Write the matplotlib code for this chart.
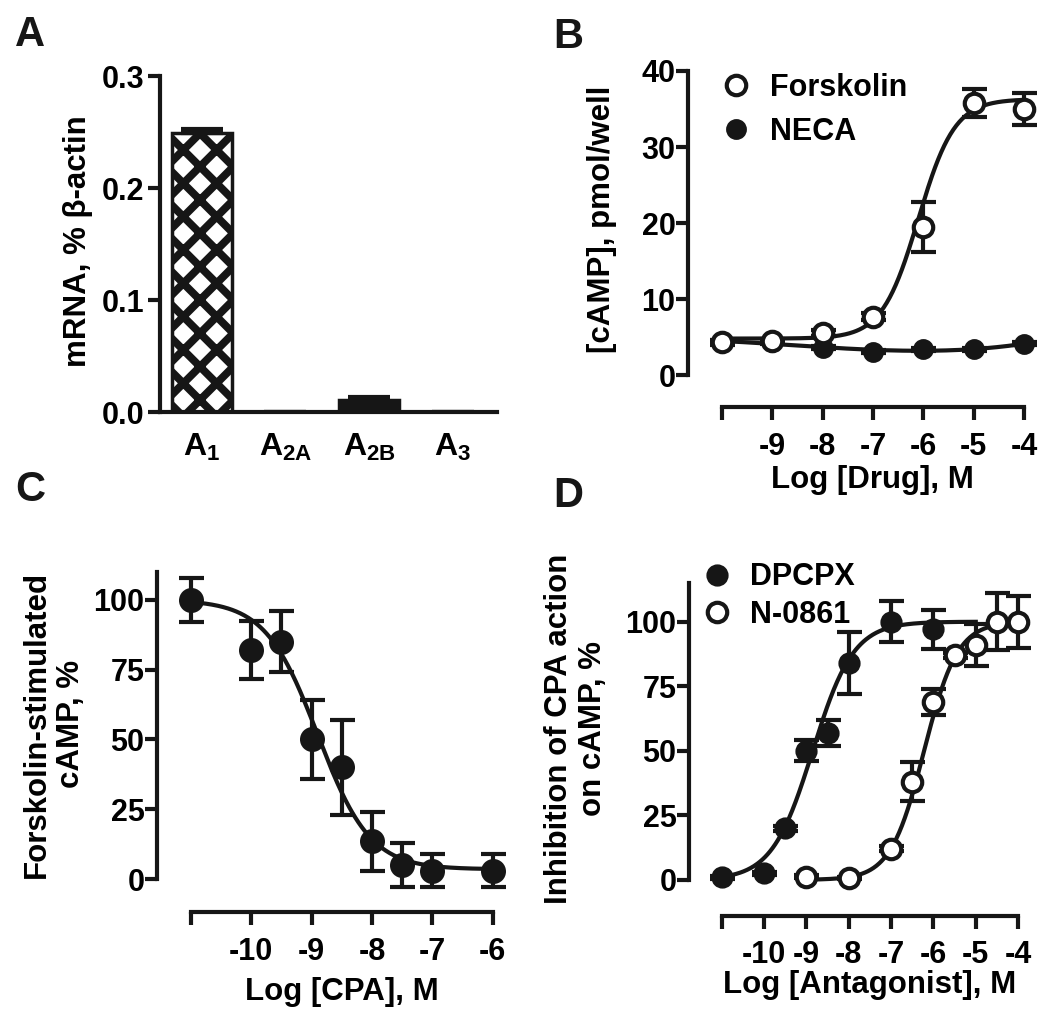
import numpy as np
import matplotlib
matplotlib.use('Agg')
import matplotlib.pyplot as plt
from matplotlib.lines import Line2D

plt.rcParams['font.family'] = ['Liberation Sans', 'DejaVu Sans']
plt.rcParams['font.weight'] = 'bold'
plt.rcParams['axes.labelweight'] = 'bold'
plt.rcParams['mathtext.fontset'] = 'custom'
plt.rcParams['mathtext.rm'] = 'Liberation Sans:bold'
plt.rcParams['mathtext.it'] = 'Liberation Sans:bold'
plt.rcParams['mathtext.bf'] = 'Liberation Sans:bold'
plt.rcParams['hatch.linewidth'] = 5.6

INK = '#161616'

# --- A: receptor mRNA ---
receptors = [r'$\mathrm{A_1}$', r'$\mathrm{A_{2A}}$', r'$\mathrm{A_{2B}}$', r'$\mathrm{A_3}$']
mrna = [0.249, 0.0, 0.011, 0.0]
mrna_err = [0.004, 0.0, 0.002, 0.0]

# --- B: cAMP vs drug ---
drug_log = [-10, -9, -8, -7, -6, -5, -4]
forsk = [4.3, 4.5, 5.5, 7.7, 19.5, 35.8, 35.0]
forsk_err = [0.3, 0.3, 0.4, 0.5, 3.3, 1.8, 2.1]
neca = [4.4, 4.3, 3.6, 3.1, 3.4, 3.4, 4.1]
neca_err = [0.2, 0.2, 0.2, 0.2, 0.2, 0.2, 0.2]
forsk_fit = dict(bottom=4.8, top=36.3, logec50=-6.1, hill=1.2)

# --- C: CPA inhibition ---
cpa_log = [-11, -10, -9.5, -9, -8.5, -8, -7.5, -7, -6]
cpa_resp = [100, 82, 85, 50, 40, 13.5, 5, 3, 3]
cpa_err = [8, 10.5, 11, 14, 17, 10.5, 8, 6, 6]
cpa_fit = dict(bottom=3.5, top=100, logec50=-8.9, hill=-1.0)

# --- D: antagonists ---
dpcpx_log = [-11, -10, -9.5, -9, -8.5, -8, -7, -6]
dpcpx = [1, 2.5, 20, 50, 57, 84, 100, 97]
dpcpx_err = [0.5, 0.5, 1, 4, 5, 12, 8, 7.5]
dpcpx_fit = dict(bottom=0, top=100, logec50=-8.85, hill=0.9)
n0861_log = [-9, -8, -7, -6.5, -6, -5.5, -5, -4.5, -4]
n0861 = [1.3, 0.8, 12, 38, 69, 87, 91, 100, 100]
n0861_err = [0.5, 0.5, 1, 7.5, 5, 1, 8, 11, 10]
n0861_fit = dict(bottom=0, top=100, logec50=-6.22, hill=1.1)


def hill(x, bottom, top, logec50, hill):
    return bottom + (top - bottom) / (1 + 10 ** ((logec50 - x) * hill))


def style_axes(ax):
    for s in ['top', 'right']:
        ax.spines[s].set_visible(False)
    for s in ['left', 'bottom']:
        ax.spines[s].set_linewidth(3)
        ax.spines[s].set_color(INK)
    ax.tick_params(direction='out', length=9, width=3, color=INK,
                   labelsize=22, pad=2)


def points(ax, x, y, err, filled, ms):
    ax.errorbar(x, y, yerr=err, fmt='none', ecolor=INK, elinewidth=3,
                capsize=9, capthick=3, zorder=3, clip_on=False)
    ax.plot(x, y, 'o', ms=ms, mfc=INK if filled else 'white', mec=INK,
            mew=3, zorder=4, clip_on=False, linestyle='none')


fig = plt.figure(figsize=(10.5, 10.24), dpi=100)

# ---------------- A ----------------
axA = fig.add_axes([160 / 1050, 1 - 412 / 1024, 337 / 1050, 336 / 1024])
style_axes(axA)
xA = np.arange(len(receptors))
axA.bar(xA, mrna, width=0.72, color=['white', 'white', INK, 'white'],
        edgecolor=INK, hatch='x', linewidth=2.5, zorder=2)
axA.errorbar(xA, mrna, yerr=[np.zeros(len(mrna)), mrna_err], fmt='none',
             ecolor=INK, elinewidth=3, capsize=15, capthick=3, zorder=3)
axA.set_xlim(-0.5, 3.53)
axA.set_ylim(0, 0.3)
axA.set_yticks([0.0, 0.1, 0.2, 0.3])
axA.set_yticklabels(['0.0', '0.1', '0.2', '0.3'])
axA.set_xticks(xA)
axA.set_xticklabels(receptors)
axA.tick_params(axis='x', length=0, pad=14, labelsize=23)
axA.set_ylabel('mRNA, % β-actin', fontsize=22.5)
axA.yaxis.set_label_coords(-0.243, 0.509)
axA.yaxis.label.set_va('center')

# ---------------- B ----------------
axB = fig.add_axes([688 / 1050, 1 - 407 / 1024, 342 / 1050, 336 / 1024])
style_axes(axB)
xs = np.linspace(-10, -4, 300)
axB.plot(xs, hill(xs, **forsk_fit), color=INK, lw=3, zorder=2)
neca_poly = np.polyfit(drug_log, neca, 3)
axB.plot(xs, np.polyval(neca_poly, xs), color=INK, lw=3, zorder=2)
points(axB, drug_log, neca, neca_err, True, 12)
points(axB, drug_log, forsk, forsk_err, False, 14)
axB.set_xlim(-10.68, -3.88)
axB.set_ylim(-4.2, 40)
axB.spines['left'].set_bounds(0, 40)
axB.spines['bottom'].set_bounds(-10, -4)
axB.set_yticks([0, 10, 20, 30, 40])
axB.set_xticks([-10, -9, -8, -7, -6, -5, -4])
axB.set_xticklabels(['', '-9', '-8', '-7', '-6', '-5', '-4'])
axB.tick_params(axis='y', pad=0)
axB.tick_params(axis='x', pad=9)
axB.set_ylabel('[cAMP], pmol/well', fontsize=22.5)
axB.yaxis.set_label_coords((602 - 688) / 342, (407 - 219) / 336)
axB.yaxis.label.set_va('center')
axB.set_xlabel('Log [Drug], M', fontsize=22.5)
axB.xaxis.set_label_coords((872 - 688) / 342, -(480 - 407) / 336)
axB.xaxis.label.set_va('center')
hB = [Line2D([], [], marker='o', ls='none', ms=14, mfc='white', mec=INK, mew=3),
      Line2D([], [], marker='o', ls='none', ms=12, mfc=INK, mec=INK, mew=3)]
axB.legend(hB, ['Forskolin', 'NECA'], loc='upper left', frameon=False,
           bbox_to_anchor=(0.06, 1.031), fontsize=22, handlelength=1.0,
           handletextpad=0.6, labelspacing=0.45, borderaxespad=0)

# ---------------- C ----------------
axC = fig.add_axes([157 / 1050, 1 - 912 / 1024, 343 / 1050, 340 / 1024])
style_axes(axC)
xs = np.linspace(-11, -6, 300)
axC.plot(xs, hill(xs, **cpa_fit), color=INK, lw=3, zorder=2)
points(axC, cpa_log, cpa_resp, cpa_err, True, 15)
axC.set_xlim(-11.56, -5.88)
axC.set_ylim(-11.8, 110)
axC.spines['left'].set_bounds(0, 110)
axC.spines['bottom'].set_bounds(-11, -6)
axC.set_yticks([0, 25, 50, 75, 100])
axC.set_xticks([-11, -10, -9, -8, -7, -6])
axC.set_xticklabels(['', '-10', '-9', '-8', '-7', '-6'])
axC.tick_params(axis='y', pad=0)
axC.tick_params(axis='x', pad=9)
axC.set_ylabel('Forskolin-stimulated\ncAMP, %', fontsize=22.5)
axC.yaxis.set_label_coords((54 - 157) / 343, (912 - 724) / 340)
axC.yaxis.label.set_va('center')
axC.set_xlabel('Log [CPA], M', fontsize=22.5)
axC.xaxis.set_label_coords((342 - 157) / 343, -(992 - 912) / 340)
axC.xaxis.label.set_va('center')

# ---------------- D ----------------
axD = fig.add_axes([689 / 1050, 1 - 916 / 1024, 341 / 1050, 333 / 1024])
style_axes(axD)
xs = np.linspace(-11, -5, 300)
axD.plot(xs, hill(xs, **dpcpx_fit), color=INK, lw=3, zorder=2)
xs = np.linspace(-9, -4, 300)
axD.plot(xs, hill(xs, **n0861_fit), color=INK, lw=3, zorder=2)
points(axD, dpcpx_log, dpcpx, dpcpx_err, True, 13)
points(axD, n0861_log, n0861, n0861_err, False, 14)
axD.set_xlim(-11.77, -3.72)
axD.set_ylim(-14, 115)
axD.spines['left'].set_bounds(0, 115)
axD.spines['bottom'].set_bounds(-11, -4)
axD.set_yticks([0, 25, 50, 75, 100])
axD.set_xticks([-11, -10, -9, -8, -7, -6, -5, -4])
axD.set_xticklabels(['', '-10', '-9', '-8', '-7', '-6', '-5', '-4'])
axD.tick_params(axis='y', pad=0)
axD.tick_params(axis='x', pad=8)
axD.set_ylabel('Inhibition of CPA action\non cAMP, %', fontsize=22.5)
axD.yaxis.set_label_coords((576 - 689) / 341, (916 - 729) / 333)
axD.yaxis.label.set_va('center')
axD.set_xlabel('Log [Antagonist], M', fontsize=22.5)
axD.xaxis.set_label_coords((870 - 689) / 341, -(985 - 916) / 333)
axD.xaxis.label.set_va('center')
hD = [Line2D([], [], marker='o', ls='none', ms=13, mfc=INK, mec=INK, mew=3),
      Line2D([], [], marker='o', ls='none', ms=14, mfc='white', mec=INK, mew=3)]
axD.legend(hD, ['DPCPX', 'N-0861'], loc='upper left', frameon=False,
           bbox_to_anchor=(0.0, 1.099), fontsize=22, handlelength=1.0,
           handletextpad=0.6, labelspacing=0.25, borderaxespad=0)

# panel letters
for lab, (px, py) in zip('ABCD', [(15, 35), (553, 37), (15, 490), (553, 496)]):
    fig.text(px / 1050, 1 - py / 1024, lab, fontsize=30, fontweight='bold',
             ha='left', va='center', color=INK)

fig.savefig('out.png', dpi=100, facecolor='white')
